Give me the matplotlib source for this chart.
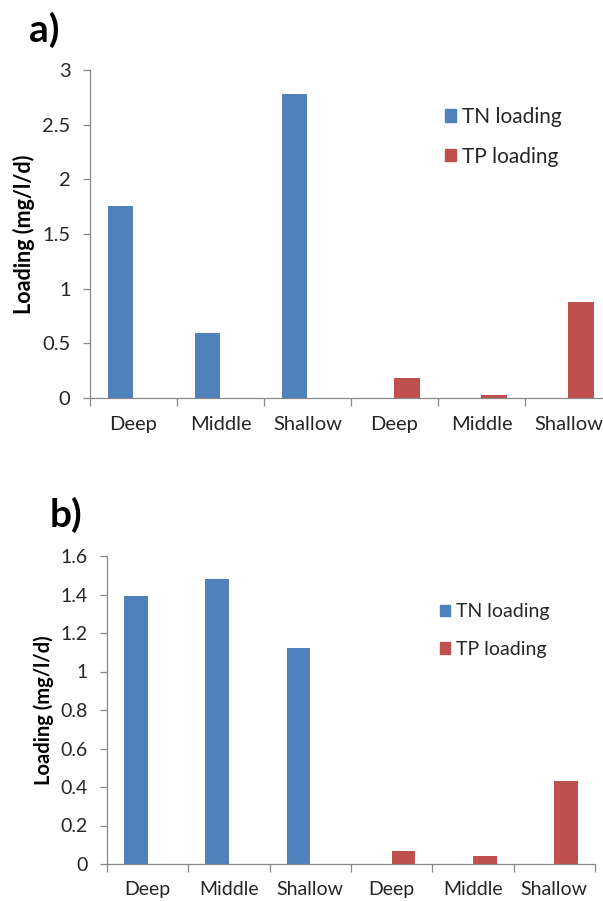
import matplotlib
matplotlib.use("Agg")
import matplotlib.pyplot as plt
from matplotlib.patches import Patch
import numpy as np

plt.rcParams['font.family'] = ['Lato', 'DejaVu Sans']

categories = ['Deep', 'Middle', 'Shallow', 'Deep', 'Middle', 'Shallow']
tn_a = [1.76, 0.59, 2.78, 0, 0, 0]
tp_a = [0, 0, 0, 0.18, 0.03, 0.88]
tn_b = [1.39, 1.48, 1.12, 0, 0, 0]
tp_b = [0, 0, 0, 0.07, 0.04, 0.43]
yticks_a = [0, 0.5, 1, 1.5, 2, 2.5, 3]
yticks_b = [0, 0.2, 0.4, 0.6, 0.8, 1, 1.2, 1.4, 1.6]

blue = '#4F81BD'
red = '#C0504D'
axis_col = '#888888'
text_col = '#262626'

W, H = 603, 901
fig = plt.figure(figsize=(W / 100, H / 100), dpi=100)


def px_axes(left, top, right, bottom):
    return fig.add_axes([left / W, 1 - bottom / H, (right - left) / W, (bottom - top) / H])


def draw(ax, tn, tp, yticks, fs, lab_pad):
    x = np.arange(len(categories))
    w = 0.29
    ax.bar(x, tn, width=-w, align='edge', color=blue, linewidth=0)
    ax.bar(x, tp, width=w, align='edge', color=red, linewidth=0)
    ax.set_xlim(-0.5, len(categories) - 0.5)
    ax.set_ylim(yticks[0], yticks[-1])
    for s in ['top', 'right']:
        ax.spines[s].set_visible(False)
    for s in ['left', 'bottom']:
        ax.spines[s].set_color(axis_col)
        ax.spines[s].set_linewidth(0.9)
    ax.set_yticks(yticks)
    ax.set_yticklabels(['{:g}'.format(v) for v in yticks])
    ax.tick_params(axis='y', direction='out', length=5, width=0.9, color=axis_col,
                   labelsize=fs, labelcolor=text_col, pad=9)
    ax.set_xticks(np.arange(len(categories) + 1) - 0.5)
    ax.set_xticklabels([])
    ax.tick_params(axis='x', which='major', direction='out', length=6, width=0.9, color=axis_col)
    ax.set_xticks(x, minor=True)
    ax.set_xticklabels(categories, minor=True)
    ax.tick_params(axis='x', which='minor', length=0, labelsize=fs, labelcolor=text_col, pad=lab_pad)


# panel a
ax1 = px_axes(90, 70, 612, 398)
draw(ax1, tn_a, tp_a, yticks_a, 14.5, 13)
fig.text(24 / W, 1 - 234 / H, 'Loading (mg/l/d)', rotation=90, ha='center', va='center',
         fontsize=15.5, fontweight='bold', color='black')
fig.text(44 / W, 1 - 30 / H, 'a)', ha='center', va='center', fontsize=28, fontweight='bold')
handles = [Patch(color=blue), Patch(color=red)]
ax1.legend(handles, ['TN loading', 'TP loading'], loc='upper left',
           bbox_to_anchor=(426 / W, 1 - 88 / H), bbox_transform=fig.transFigure,
           frameon=False, fontsize=15, handlelength=0.55, handleheight=0.55,
           handletextpad=0.3, labelspacing=0.95, labelcolor=text_col)

# panel b
ax2 = px_axes(107, 556, 595, 864)
draw(ax2, tn_b, tp_b, yticks_b, 14, 12)
fig.text(44 / W, 1 - 710 / H, 'Loading (mg/l/d)', rotation=90, ha='center', va='center',
         fontsize=14.5, fontweight='bold', color='black')
fig.text(66 / W, 1 - 515 / H, 'b)', ha='center', va='center', fontsize=28, fontweight='bold')
ax2.legend(handles, ['TN loading', 'TP loading'], loc='upper left',
           bbox_to_anchor=(422 / W, 1 - 586 / H), bbox_transform=fig.transFigure,
           frameon=False, fontsize=14, handlelength=0.55, handleheight=0.55,
           handletextpad=0.3, labelspacing=1.05, labelcolor=text_col)

fig.savefig('out.png', dpi=100)
